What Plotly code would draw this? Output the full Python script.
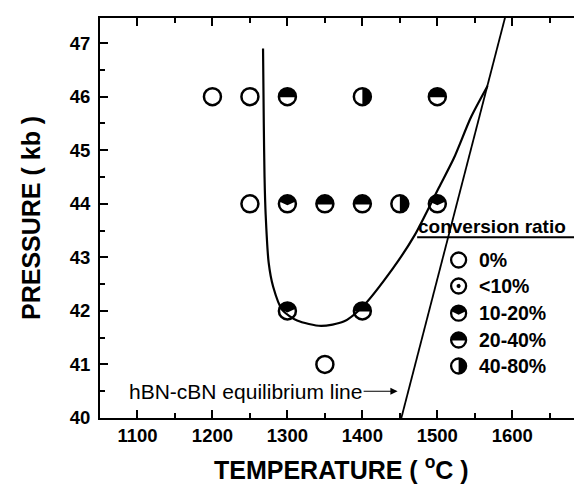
import numpy as np
import plotly.graph_objects as go

# ---------------- data ----------------
temperature = [1200, 1250, 1300, 1400, 1500,
               1250, 1300, 1350, 1400, 1450, 1500,
               1300, 1400,
               1350]
pressure = [46, 46, 46, 46, 46,
            44, 44, 44, 44, 44, 44,
            42, 42,
            41]
ratio = ["0%", "0%", "20-40%", "40-80%", "20-40%",
         "0%", "10-20%", "20-40%", "20-40%", "40-80%", "10-20%",
         "10-20%", "20-40%",
         "0%"]

boundary_T = [1267.5, 1268.5, 1269.5, 1271, 1275, 1281, 1293, 1313, 1345,
              1375, 1399, 1441, 1470, 1502, 1522, 1545, 1567]
boundary_P = [46.9, 45.5, 44.5, 43.8, 42.9, 42.45, 42.02, 41.82, 41.72,
              41.8, 42.06, 42.8, 43.42, 44.3, 44.85, 45.62, 46.2]

equilibrium_T = [1452, 1600]
equilibrium_P = [40, 48]

legend_labels = ["0%", "<10%", "10-20%", "20-40%", "40-80%"]

x_ticks = [1100, 1200, 1300, 1400, 1500, 1600]
y_ticks = [40, 41, 42, 43, 44, 45, 46, 47]

# ---------------- layout geometry ----------------
W, H = 582, 488
ML, MR, MT, MB = 92, 6, 10, 78
PW, PH = W - ML - MR, H - MT - MB
XR = [1050, 1693]
YR = [40, 47.47]
FONT = "Liberation Sans, Arial, Helvetica, sans-serif"


def glyph(kind, r):
    """black part of a conversion-ratio symbol, in pixels (y up)"""
    if kind == "<10%":
        a = np.linspace(0, 2 * np.pi, 20)
        return list(2.2 * np.cos(a)), list(2.2 * np.sin(a))
    if kind == "10-20%":
        a = np.radians(np.linspace(165, 15, 24))
        return list(r * np.cos(a)) + [0.0], list(r * np.sin(a)) + [-1.5]
    if kind == "20-40%":
        a = np.radians(np.linspace(184, -4, 30))
        return list(r * np.cos(a)), list(r * np.sin(a))
    if kind == "40-80%":
        a = np.radians(np.linspace(90, -90, 30))
        return list(r * np.cos(a)), list(r * np.sin(a))
    return [], []


def polys(xs, ys, kinds, r, sx, sy):
    px, py = [], []
    for x, y, k in zip(xs, ys, kinds):
        gx, gy = glyph(k, r)
        if not gx:
            continue
        px += [x + v * sx for v in gx] + [None]
        py += [y + v * sy for v in gy] + [None]
    return px, py


fig = go.Figure()

# data circles
MS = 17
fig.add_trace(go.Scatter(
    x=temperature, y=pressure, mode="markers",
    marker=dict(symbol="circle", size=MS, color="white",
                line=dict(color="black", width=2.5)),
    showlegend=False, hoverinfo="skip"))
sx = (XR[1] - XR[0]) / PW
sy = (YR[1] - YR[0]) / PH
px, py = polys(temperature, pressure, ratio, MS / 2, sx, sy)
fig.add_trace(go.Scatter(x=px, y=py, mode="lines", fill="toself",
                         fillcolor="black", line=dict(width=0, color="black"),
                         showlegend=False, hoverinfo="skip"))

# boundary curve and equilibrium line
fig.add_trace(go.Scatter(x=boundary_T, y=boundary_P, mode="lines",
                         line=dict(color="black", width=2.2, shape="spline",
                                   smoothing=0.7),
                         showlegend=False, hoverinfo="skip"))
fig.add_trace(go.Scatter(x=equilibrium_T, y=equilibrium_P, mode="lines",
                         line=dict(color="black", width=1.8),
                         showlegend=False, hoverinfo="skip"))

# legend block on a paper-like overlay axis
LX = 0.744
LY = [0.395, 0.33, 0.262, 0.195, 0.13]
LS = 15
fig.add_trace(go.Scatter(
    x=[LX] * len(legend_labels), y=LY, mode="markers",
    marker=dict(symbol="circle", size=LS, color="white",
                line=dict(color="black", width=2.3)),
    xaxis="x2", yaxis="y2", showlegend=False, hoverinfo="skip"))
lpx, lpy = polys([LX] * len(legend_labels), LY, legend_labels, LS / 2,
                 1 / PW, 1 / PH)
fig.add_trace(go.Scatter(x=lpx, y=lpy, mode="lines", fill="toself",
                         fillcolor="black", line=dict(width=0, color="black"),
                         xaxis="x2", yaxis="y2",
                         showlegend=False, hoverinfo="skip"))

annotations = []
for lab, yy in zip(legend_labels, LY):
    annotations.append(dict(x=LX + 0.038, y=yy, xref="paper", yref="paper",
                            text=lab, showarrow=False, xanchor="left",
                            yanchor="middle",
                            font=dict(family=FONT, size=19.5, color="black",
                                      weight="bold")))
annotations.append(dict(x=0.656, y=0.479, xref="paper", yref="paper",
                        text="conversion ratio", showarrow=False,
                        xanchor="left", yanchor="middle",
                        font=dict(family=FONT, size=19, color="black",
                                  weight="bold")))
# equilibrium line label with arrow
annotations.append(dict(x=1447, y=40.5, xref="x", yref="y",
                        text="hBN-cBN equilibrium line", showarrow=True,
                        ax=-152, ay=0, axref="pixel", ayref="pixel",
                        arrowhead=2, arrowsize=1.2, arrowwidth=1.2,
                        arrowcolor="black", standoff=0,
                        font=dict(family=FONT, size=21, color="black")))
# axis titles
annotations.append(dict(x=0.5, y=0, xref="paper", yref="paper",
                        text="TEMPERATURE ( <sup>o</sup>C )", showarrow=False,
                        xanchor="center", yanchor="middle", yshift=-50,
                        font=dict(family=FONT, size=25, color="black",
                                  weight="bold")))
annotations.append(dict(x=0, y=0.5, xref="paper", yref="paper",
                        text="PRESSURE ( kb )", showarrow=False, textangle=-90,
                        xanchor="center", yanchor="middle", xshift=-69,
                        font=dict(family=FONT, size=25, color="black",
                                  weight="bold")))

shapes = [dict(type="line", xref="paper", yref="paper", x0=0.658, x1=0.992,
               y0=0.452, y1=0.452, line=dict(color="black", width=2))]

axis_common = dict(showline=True, linecolor="black", linewidth=2,
                   mirror="ticks", ticks="inside", ticklen=8, tickwidth=2,
                   tickcolor="black", showgrid=False, zeroline=False,
                   tickfont=dict(family=FONT, size=18.5, color="black",
                                 weight="bold"))

fig.update_layout(
    width=W, height=H,
    margin=dict(l=ML, r=MR, t=MT, b=MB),
    paper_bgcolor="white", plot_bgcolor="white",
    xaxis=dict(range=XR, tickvals=x_ticks,
               minor=dict(ticks="inside", ticklen=5, tickwidth=2,
                          dtick=50, tick0=1050, tickcolor="black"),
               **axis_common),
    yaxis=dict(range=YR, tickvals=y_ticks, ticklabelstandoff=4,
               minor=dict(ticks="inside", ticklen=5, tickwidth=2,
                          dtick=0.5, tick0=40, tickcolor="black"),
               **axis_common),
    xaxis2=dict(overlaying="x", range=[0, 1], visible=False),
    yaxis2=dict(overlaying="y", range=[0, 1], visible=False),
    annotations=annotations, shapes=shapes,
    showlegend=False,
)

fig.write_html("out.html")
